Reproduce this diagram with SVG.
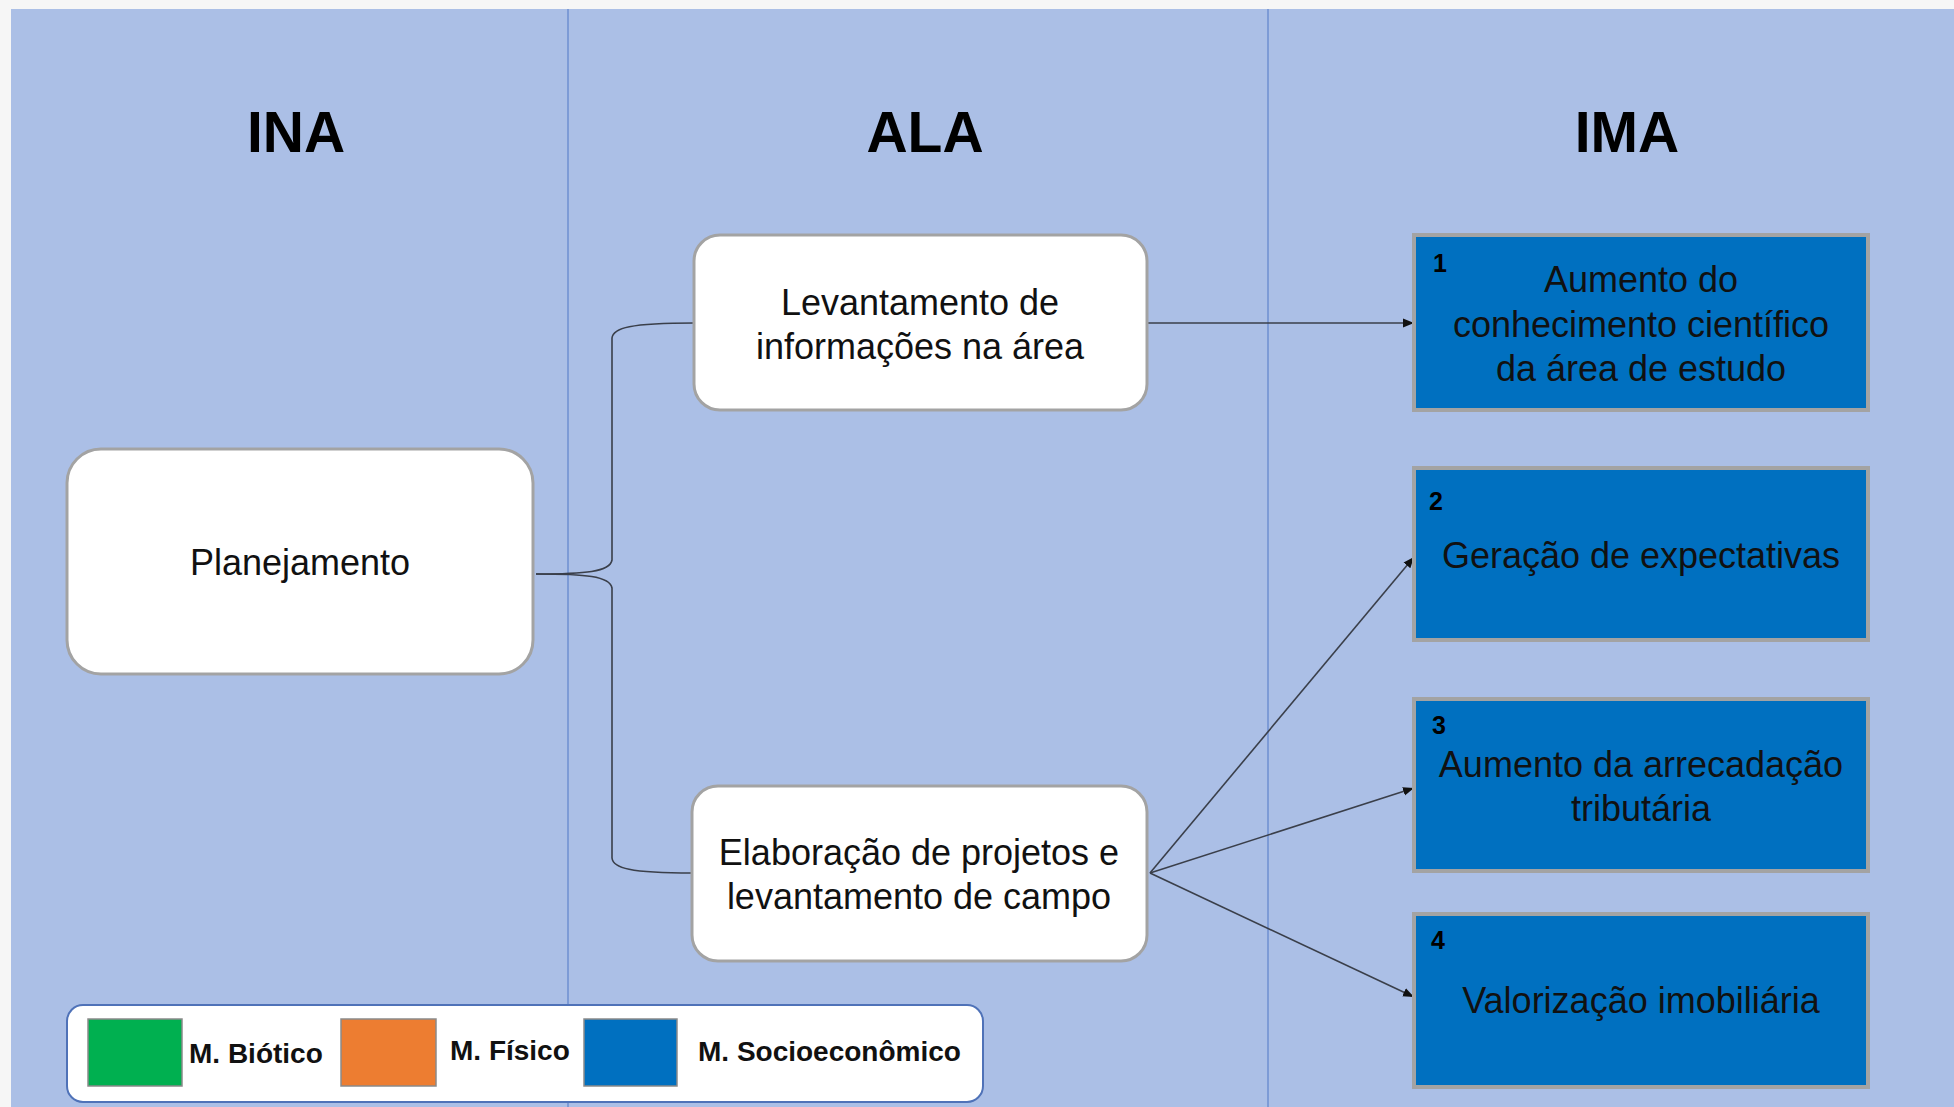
<svg xmlns="http://www.w3.org/2000/svg" width="1954" height="1107" viewBox="0 0 1954 1107">
<defs>
<style>
.title{font-family:"Liberation Sans",Arial,sans-serif;font-weight:bold;font-size:57px;fill:#000;text-anchor:middle}
.lbl{font-family:"Liberation Sans",Arial,sans-serif;font-size:36px;fill:#111;text-anchor:middle}
.num{font-family:"Liberation Sans",Arial,sans-serif;font-weight:bold;font-size:25px;fill:#000}
.leg{font-family:"Liberation Sans",Arial,sans-serif;font-weight:bold;font-size:28px;fill:#111}
.wnode{fill:#fff;stroke:#a3a3a3;stroke-width:3}
.bnode{fill:#0070c0;stroke:#a3a3a3;stroke-width:4}
.conn{fill:none;stroke:#3a3f4a;stroke-width:1.6}
.div{stroke:#6e8fd0;stroke-width:1.5}
</style>
<marker id="arr" viewBox="0 0 10 10" refX="10" refY="5" markerWidth="11" markerHeight="11" markerUnits="userSpaceOnUse" orient="auto">
<path d="M0,1 L10,5 L0,9 z" fill="#111"/>
</marker>
</defs>
<rect x="0" y="0" width="1954" height="1107" fill="#f6f6f6"/>
<rect x="11" y="9" width="1943" height="1098" fill="#abbfe6"/>
<line class="div" x1="568" y1="9" x2="568" y2="1107"/>
<line class="div" x1="1268" y1="9" x2="1268" y2="1107"/>
<text class="title" x="296" y="152">INA</text>
<text class="title" x="925" y="152">ALA</text>
<text class="title" x="1627" y="152">IMA</text>
<g id="connectors">
<path class="conn" d="M536,574 C585,574 610,572 612,560 L612,338 C613,328 630,323 694,323"/>
<path class="conn" d="M536,574 C585,574 610,576 612,588 L612,858 C613,868 630,873 692,873"/>
<path class="conn" marker-end="url(#arr)" d="M1147,323 L1414,323"/>
<path class="conn" marker-end="url(#arr)" d="M1150,873 L1414,557"/>
<path class="conn" marker-end="url(#arr)" d="M1150,873 L1414,788"/>
<path class="conn" marker-end="url(#arr)" d="M1150,873 L1414,997"/>
</g>
<g id="planejamento">
<rect class="wnode" x="67" y="449" width="466" height="225" rx="34"/>
<text class="lbl" x="300" y="575">Planejamento</text>
</g>
<g id="levantamento">
<rect class="wnode" x="694" y="235" width="453" height="175" rx="26"/>
<text class="lbl" x="920" y="315">Levantamento de</text>
<text class="lbl" x="920" y="359">informações na área</text>
</g>
<g id="elaboracao">
<rect class="wnode" x="692" y="786" width="455" height="175" rx="26"/>
<text class="lbl" x="919" y="865">Elaboração de projetos e</text>
<text class="lbl" x="919" y="909">levantamento de campo</text>
</g>
<g id="impacto1">
<rect class="bnode" x="1414" y="235" width="454" height="175"/>
<text class="num" x="1433" y="272">1</text>
<text class="lbl" x="1641" y="292">Aumento do</text>
<text class="lbl" x="1641" y="337">conhecimento científico</text>
<text class="lbl" x="1641" y="381">da área de estudo</text>
</g>
<g id="impacto2">
<rect class="bnode" x="1414" y="468" width="454" height="172"/>
<text class="num" x="1429" y="510">2</text>
<text class="lbl" x="1641" y="568">Geração de expectativas</text>
</g>
<g id="impacto3">
<rect class="bnode" x="1414" y="699" width="454" height="172"/>
<text class="num" x="1432" y="734">3</text>
<text class="lbl" x="1641" y="777">Aumento da arrecadação</text>
<text class="lbl" x="1641" y="821">tributária</text>
</g>
<g id="impacto4">
<rect class="bnode" x="1414" y="914" width="454" height="173"/>
<text class="num" x="1431" y="949">4</text>
<text class="lbl" x="1641" y="1013">Valorização imobiliária</text>
</g>
<g id="legenda">
<rect x="67" y="1005" width="916" height="97" rx="16" fill="#fff" stroke="#4f72b8" stroke-width="2"/>
<rect x="88" y="1019" width="94" height="67" fill="#00b050" stroke="#8a8a8a" stroke-width="1.5"/>
<text class="leg" x="189" y="1063">M. Biótico</text>
<rect x="341" y="1019" width="95" height="67" fill="#ed7d31" stroke="#8a8a8a" stroke-width="1.5"/>
<text class="leg" x="450" y="1060">M. Físico</text>
<rect x="584" y="1019" width="93" height="67" fill="#0070c0" stroke="#8a8a8a" stroke-width="1.5"/>
<text class="leg" x="698" y="1061">M. Socioeconômico</text>
</g>
</svg>
